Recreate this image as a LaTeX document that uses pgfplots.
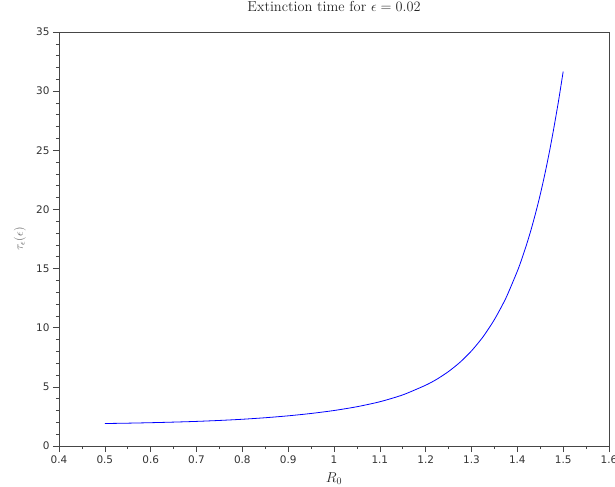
\documentclass[border=0pt]{standalone}
\usepackage{fontspec}
\usepackage{pgfplots}
\pgfplotsset{compat=1.18}
\newfontfamily\tickfont{DejaVu Sans}
\definecolor{axgray}{RGB}{70,70,70}
\begin{document}
\begin{tikzpicture}
\useasboundingbox (-59bp,-41bp) rectangle (556bp,446bp);
\begin{axis}[
  at={(0,0)}, anchor=south west,
  scale only axis, width=550bp, height=414bp,
  xmin=0.4, xmax=1.6, ymin=0, ymax=35,
  xtick={0.4,0.5,0.6,0.7,0.8,0.9,1,1.1,1.2,1.3,1.4,1.5,1.6},
  xticklabels={0.4,0.5,0.6,0.7,0.8,0.9,1,1.1,1.2,1.3,1.4,1.5,1.6},
  ytick={0,5,10,15,20,25,30,35},
  minor x tick num=1, minor y tick num=4,
  tick align=outside, xtick pos=bottom, ytick pos=left,
  major tick length=6bp, minor tick length=3bp,
  axis line style={axgray}, tick style={axgray, line width=0.6bp},
  /pgf/number format/assume math mode=true,
  ticklabel style={font=\tickfont\fontsize{10.5}{12}\selectfont, text=black!80},
  title={Extinction time for $\epsilon = 0.02$},
  title style={at={(axis description cs:0.5,1.0362)}, anchor=base, font=\fontsize{14.5}{16}\selectfont, text=black!85},
  xlabel={$R_0$},
  xlabel style={at={(axis description cs:0.5,-0.087)}, anchor=base, font=\fontsize{14}{16}\selectfont, text=black!85},
  ylabel={$\tau_\epsilon(\epsilon)$},
  ylabel style={at={(axis description cs:-0.0709,0.5)}, anchor=center, font=\fontsize{12.5}{14}\selectfont, text=black!60},
]
\addplot[color=blue, line width=0.8bp, mark=none, smooth, tension=0.4] coordinates {
(0.50,1.90) (0.55,1.93) (0.60,1.97) (0.65,2.02) (0.70,2.08) (0.75,2.16)
(0.80,2.26) (0.85,2.39) (0.90,2.55) (0.95,2.75) (1.00,3.00) (1.05,3.32)
(1.10,3.74) (1.15,4.32) (1.20,5.14) (1.225,5.66) (1.25,6.30) (1.275,7.08)
(1.30,8.04) (1.325,9.22) (1.35,10.69) (1.375,12.50) (1.40,14.78)
(1.41,15.84) (1.42,17.01) (1.43,18.29) (1.44,19.71) (1.45,21.26)
(1.46,22.98) (1.47,24.87) (1.48,26.96) (1.49,29.20) (1.50,31.65)
};
\end{axis}
\end{tikzpicture}
\end{document}
